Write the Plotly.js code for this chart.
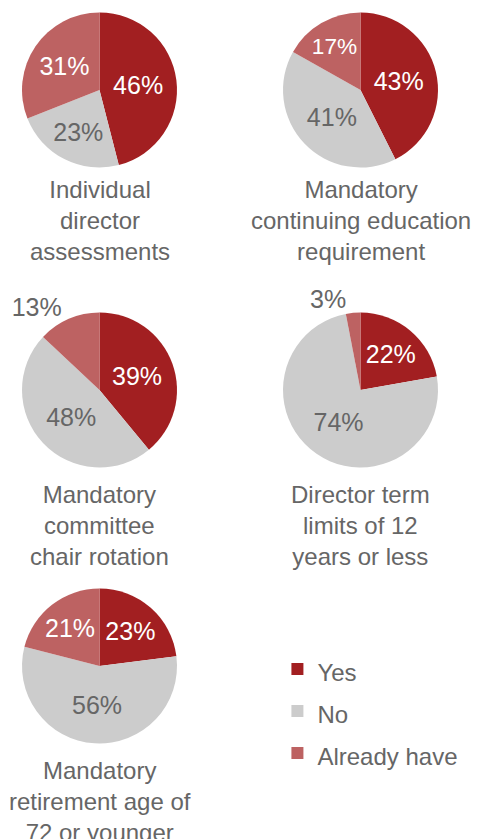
<!DOCTYPE html>
<html>
<head>
<meta charset="utf-8">
<script src="https://cdn.plot.ly/plotly-3.0.1.min.js"></script>
<style>html,body{margin:0;padding:0;background:#fff;}#chart{width:491px;height:839px;}</style>
</head>
<body>
<div id="chart"></div>
<script>
// ---- data ----
var categories = ["Yes", "No", "Already have"];
var titles = [
  "Individual<br>director<br>assessments",
  "Mandatory<br>continuing education<br>requirement",
  "Mandatory<br>committee<br>chair rotation",
  "Director term<br>limits of 12<br>years or less",
  "Mandatory<br>retirement age of<br>72 or younger"
];
var assessments = [46, 23, 31];
var education = [43, 41, 17];
var chairRotation = [39, 48, 13];
var termLimits = [22, 74, 3];
var retirementAge = [23, 56, 21];
var seriesValues = [assessments, education, chairRotation, termLimits, retirementAge];

// ---- styling / layout ----
var W = 491, H = 839, R = 77.5;
var centers = [[99.5, 90], [360.5, 90], [99.5, 390], [360.5, 390], [99.5, 666]];
var titleTops = [174, 174, 479, 479, 755];
var textPositions = [
  ["inside", "inside", "inside"],
  ["inside", "inside", "inside"],
  ["inside", "inside", "outside"],
  ["inside", "inside", "outside"],
  ["inside", "inside", "inside"]
];
var colors = ["#a21f21", "#cccccc", "#bd6262"];
var gray = "#666666";
var fontFam = "Liberation Sans, Arial, Helvetica, sans-serif";
// legend text drawn at 24px inside a 30px legend line for the wider row spacing
var legendLabels = categories.map(function (c) {
  return '<span style="font-size:24px">' + c + '</span>';
});

var traces = [], annotations = [];
seriesValues.forEach(function (vals, i) {
  var cx = centers[i][0], cy = centers[i][1];
  traces.push({
    type: "pie",
    labels: legendLabels,
    values: vals,
    sort: false,
    direction: "clockwise",
    rotation: 0,
    marker: { colors: colors, line: { width: 0 } },
    texttemplate: "%{value}%",
    textposition: textPositions[i],
    insidetextorientation: "horizontal",
    insidetextfont: { family: fontFam, size: 25, color: ["#ffffff", gray, "#ffffff"] },
    outsidetextfont: { family: fontFam, size: 25, color: gray },
    hoverinfo: "value",
    showlegend: i === 0,
    domain: {
      x: [(cx - R) / W, (cx + R) / W],
      y: [1 - (cy + R) / H, 1 - (cy - R) / H]
    }
  });
  annotations.push({
    xref: "paper", yref: "paper",
    x: cx / W, y: 1 - titleTops[i] / H,
    xanchor: "center", yanchor: "top",
    showarrow: false,
    text: titles[i],
    font: { family: fontFam, size: 24, color: gray }
  });
});

var layout = {
  width: W, height: H,
  margin: { l: 0, r: 0, t: 0, b: 0 },
  paper_bgcolor: "#ffffff",
  showlegend: true,
  legend: {
    x: 0.565, y: 1 - 643 / H, xanchor: "left", yanchor: "top",
    font: { family: fontFam, size: 30, color: gray },
    traceorder: "normal"
  },
  annotations: annotations
};

Plotly.newPlot("chart", traces, layout, { displayModeBar: false, staticPlot: true });
</script>
</body>
</html>
